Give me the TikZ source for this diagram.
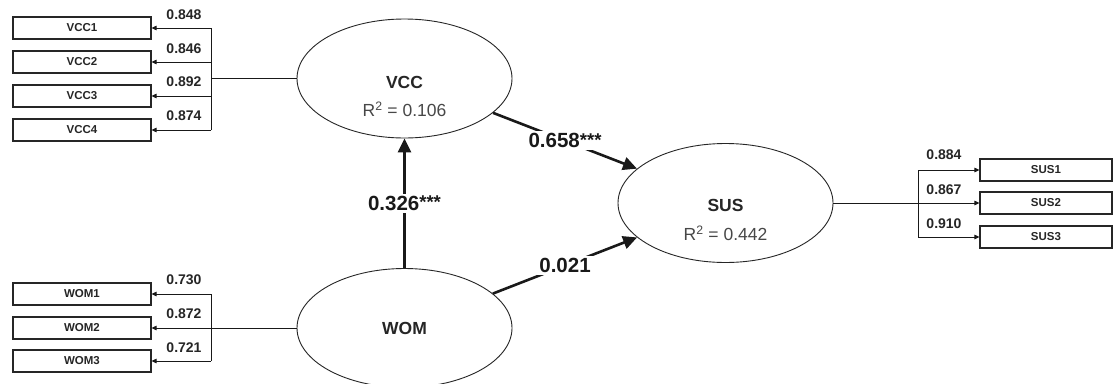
\documentclass[tikz,border=0pt]{standalone}
\usepackage{fontspec}
\setmainfont{Liberation Sans}
\usetikzlibrary{arrows.meta,shapes.geometric}
\newcommand{\sigstars}{\raisebox{1.5pt}{\fontsize{18.5}{20}\selectfont ***}}
\begin{document}
\begin{tikzpicture}[x=1pt,y=-1pt,
  lv/.style={ellipse, draw=black!85, line width=0.9pt, fill=white, minimum width=215pt, minimum height=119pt, inner sep=0pt},
  lvname/.style={font=\fontsize{17.5}{20}\selectfont\bfseries, text=black!85, inner sep=0pt},
  rsq/.style={font=\fontsize{17.5}{20}\selectfont, text=black!72, inner sep=0pt},
  ind/.style={draw=black!85, line width=1.1pt, fill=white, minimum width=138pt, minimum height=22pt, inner sep=0pt, font=\fontsize{11.5}{13}\selectfont\bfseries, text=black!85},
  load/.style={font=\fontsize{14}{16}\selectfont\bfseries, text=black!85, inner sep=0pt},
  coef/.style={font=\fontsize{20.5}{23}\selectfont\bfseries, fill=white, inner sep=2pt, text=black!90},
  wire/.style={line width=0.9pt, draw=black!90},
  wirearrow/.style={wire, -{Triangle[length=5pt,width=4.5pt]}},
  structarrow/.style={line width=2.6pt, draw=black!90, -{Triangle[length=14pt,width=13pt]}}
]
\clip (0,0) rectangle (1113,383);
\fill[white] (0,0) rectangle (1113,383);

% latent variables
\node[lv] (vcc) at (404.5,78.5) {};
\node[lv] (sus) at (725.5,203) {};
\node[lv] (wom) at (404.5,328) {};
\node[lvname] (vcct) at (404.5,82) {VCC};
\node[rsq] (vccr) at (404.5,109) {R\textsuperscript{2} = 0.106};
\node[lvname] (sust) at (725.5,205) {SUS};
\node[rsq] (susr) at (725.5,233) {R\textsuperscript{2} = 0.442};
\node[lvname] (womt) at (404.5,328) {WOM};

% indicators
\node[ind] (v1) at (82,28) {VCC1};
\node[ind] (v2) at (82,62) {VCC2};
\node[ind] (v3) at (82,96) {VCC3};
\node[ind] (v4) at (82,130) {VCC4};
\node[ind] (w1) at (82,294) {WOM1};
\node[ind] (w2) at (82,328) {WOM2};
\node[ind] (w3) at (82,361) {WOM3};
\node[ind, minimum width=132pt] (s1) at (1046,170) {SUS1};
\node[ind, minimum width=132pt] (s2) at (1046,203) {SUS2};
\node[ind, minimum width=132pt] (s3) at (1046,237) {SUS3};

% branch points
\coordinate (vb) at (211,78.5);
\coordinate (wb) at (211,328);
\coordinate (sb) at (918,203);

% VCC measurement
\draw[wire] (vcc.west) -- (vb);
\draw[wire] (vb |- v1.east) -- (vb |- v4.east);
\draw[wirearrow] (vb |- v1.east) -- (v1.east);
\draw[wirearrow] (vb |- v2.east) -- (v2.east);
\draw[wirearrow] (vb |- v3.east) -- (v3.east);
\draw[wirearrow] (vb |- v4.east) -- (v4.east);
\node[load] (lv1) at (184,15) {0.848};
\node[load] (lv2) at (184,49) {0.846};
\node[load] (lv3) at (184,82) {0.892};
\node[load] (lv4) at (184,116) {0.874};

% WOM measurement
\draw[wire] (wom.west) -- (wb);
\draw[wire] (wb |- w1.east) -- (wb |- w3.east);
\draw[wirearrow] (wb |- w1.east) -- (w1.east);
\draw[wirearrow] (wb) -- (w2.east);
\draw[wirearrow] (wb |- w3.east) -- (w3.east);
\node[load] (lw1) at (184,280) {0.730};
\node[load] (lw2) at (184,314) {0.872};
\node[load] (lw3) at (184,348) {0.721};

% SUS measurement
\draw[wire] (sus.east) -- (sb);
\draw[wire] (sb |- s1.west) -- (sb |- s3.west);
\draw[wirearrow] (sb |- s1.west) -- (s1.west);
\draw[wirearrow] (sb) -- (s2.west);
\draw[wirearrow] (sb |- s3.west) -- (s3.west);
\node[load] (ls1) at (944,155) {0.884};
\node[load] (ls2) at (944,190) {0.867};
\node[load] (ls3) at (944,224) {0.910};

% structural paths
\draw[structarrow] (wom) -- node[coef] (c1) {0.326\sigstars} (vcc);
\draw[structarrow] (vcc) -- node[coef] (c2) {0.658\sigstars} (sus);
\draw[structarrow] (wom) -- node[coef] (c3) {0.021} (sus);
\end{tikzpicture}
\end{document}
